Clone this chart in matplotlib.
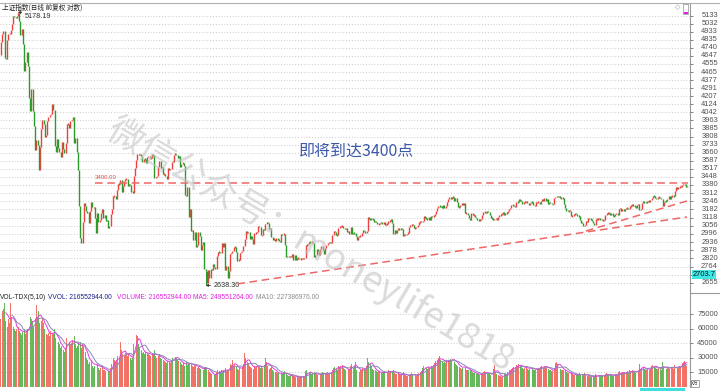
import numpy as np
import pandas as pd
import matplotlib
matplotlib.use('Agg')
import matplotlib.pyplot as plt
from matplotlib.lines import Line2D
from matplotlib.patches import Rectangle

# ---------------- data: Shanghai Composite daily closes (by month) ----------------
first_open = 4660
c15_05 = [4813, 4910, 4941, 4620, 4611]
c15_06 = [4828, 4910, 4910, 4947, 5023, 5131, 5113, 5106, 5121, 5166, 5062, 4887, 4967, 4786, 4478, 4576, 4690, 4527, 4192, 4053, 4277]
c15_07 = [4053, 3912, 3687, 3775, 3727, 3507, 3710, 3877, 3970, 3924, 3805, 3823, 3958, 3992, 4017, 4026, 4124, 4070, 3725, 3663, 3789, 3705, 3664]
c15_08 = [3623, 3756, 3695, 3661, 3744, 3928, 3928, 3887, 3955, 3965, 3993, 3749, 3794, 3664, 3507, 3210, 2965, 2927, 3084, 3232, 3206]
c15_09 = [3166, 3160, 3080, 3170, 3243, 3198, 3200, 3114, 3005, 3152, 3086, 3097, 3156, 3185, 3116, 3142, 3092, 3100, 3038, 3053]
c15_10 = [3143, 3183, 3287, 3293, 3263, 3338, 3391, 3386, 3425, 3320, 3369, 3412, 3429, 3434, 3375, 3387, 3383]
c15_11 = [3325, 3316, 3459, 3522, 3590, 3646, 3640, 3650, 3632, 3580, 3606, 3604, 3568, 3617, 3630, 3610, 3616, 3647, 3635, 3436, 3445]
c15_12 = [3456, 3536, 3584, 3525, 3536, 3470, 3472, 3455, 3434, 3520, 3510, 3516, 3580, 3578, 3642, 3651, 3636, 3612, 3627, 3533, 3563, 3572, 3539]
c16_01 = [3296, 3288, 3361, 3125, 3186, 3016, 3022, 2949, 3007, 2901, 2913, 3008, 2977, 2880, 2916, 2938, 2750, 2735, 2656, 2738]
c16_02 = [2689, 2749, 2740, 2782, 2763, 2746, 2836, 2867, 2862, 2860, 2927, 2903, 2928, 2742, 2767, 2688]
c16_03 = [2733, 2849, 2859, 2874, 2897, 2901, 2863, 2805, 2810, 2859, 2864, 2870, 2904, 2955, 3018, 2999, 3009, 2960, 2979, 2957, 2919, 3000, 3003]
c16_04 = [3009, 3053, 3050, 2985, 2985, 3034, 3023, 3066, 3082, 3078, 3033, 3042, 2972, 2953, 2960, 2946, 2964, 2954, 2945, 2938]
c16_05 = [2992, 2991, 2997, 2913, 2832, 2837, 2827, 2836, 2827, 2850, 2807, 2843, 2806, 2821, 2822, 2815, 2817, 2822, 2816, 2822, 2916]
c16_06 = [2913, 2925, 2938, 2934, 2936, 2927, 2833, 2842, 2887, 2873, 2844, 2888, 2905, 2878, 2854, 2895, 2912, 2931, 2932, 2930]
c16_07 = [2932, 2988, 3017, 3006, 2989, 2988, 3042, 3049, 3054, 3055, 3043, 3029, 3040, 3012, 3015, 2994, 3050, 2992, 3004, 2999, 2979]
c16_08 = [2953, 2971, 2978, 2982, 3004, 3026, 3018, 3002, 3018, 3125, 3110, 3104, 3108, 3104, 3084, 3089, 3085, 3070, 3070, 3075, 3085, 3070, 3085]
c16_09 = [3063, 3067, 3072, 3091, 3095, 3106, 3078, 2995, 3022, 3003, 3026, 3043, 3025, 3042, 3033, 2980, 2998, 2987, 2998, 3005]
c16_10 = [3048, 3061, 3065, 3063, 3041, 3041, 3045, 3059, 3084, 3085, 3091, 3090, 3128, 3116, 3113, 3100]
c16_11 = [3122, 3102, 3129, 3125, 3133, 3148, 3171, 3196, 3210, 3206, 3205, 3194, 3218, 3192, 3209, 3241, 3261, 3277, 3262, 3282, 3277, 3250]
c16_12 = [3273, 3243, 3204, 3199, 3216, 3232, 3215, 3232, 3152, 3155, 3140, 3117, 3103, 3153, 3137, 3139, 3122, 3114, 3102, 3097, 3105, 3104]
c17_01 = [3135, 3158, 3165, 3154, 3172, 3161, 3136, 3119, 3112, 3103, 3108, 3113, 3101, 3123, 3136, 3142, 3149, 3159]
c17_02 = [3140, 3156, 3153, 3166, 3183, 3196, 3216, 3217, 3212, 3202, 3240, 3239, 3261, 3253, 3251, 3228, 3241, 3242]
c17_03 = [3246, 3230, 3218, 3233, 3242, 3240, 3216, 3212, 3237, 3238, 3242, 3226, 3250, 3261, 3250, 3269, 3248, 3266, 3222, 3241, 3236, 3222, 3223]
c17_04 = [3270, 3281, 3287, 3286, 3288, 3269, 3273, 3276, 3222, 3196, 3173, 3170, 3172, 3173, 3129, 3134, 3140, 3155]
c17_05 = [3143, 3135, 3127, 3103, 3080, 3078, 3052, 3061, 3090, 3085, 3113, 3112, 3104, 3090, 3075, 3061, 3107, 3108, 3110, 3117]
c17_06 = [3102, 3105, 3091, 3103, 3140, 3150, 3158, 3150, 3139, 3153, 3132, 3130, 3144, 3157, 3140, 3185, 3191, 3173, 3185, 3173, 3188, 3192]
c17_07 = [3196, 3183, 3207, 3212, 3218, 3213, 3203, 3197, 3218, 3223, 3176, 3187, 3230, 3245, 3238, 3237, 3244, 3249, 3246, 3253, 3273]
c17_08 = [3292, 3285, 3272, 3262, 3279, 3281, 3275, 3261, 3208, 3237, 3251, 3246, 3268, 3286, 3268, 3287, 3290, 3288, 3331, 3362, 3348, 3360, 3365]
c17_09 = [3367, 3379, 3384, 3385, 3365, 3365]

# daily volume, unit = 1000 x 10k (axis unit 万)
v15_05 = [70, 78, 80, 86, 68]
v15_06 = [62, 70, 66, 86, 72, 62, 60, 58, 60, 62, 58, 56, 54, 57, 60, 55, 58, 60, 66, 72, 70]
v15_07 = [68, 62, 70, 84, 72, 78, 66, 68, 70, 66, 60, 55, 54, 56, 52, 58, 56, 55, 60, 50, 48, 46, 44]
v15_08 = [40, 42, 38, 36, 40, 50, 52, 46, 44, 45, 48, 52, 44, 40, 42, 44, 46, 40, 44, 42, 36]
v15_09 = [30, 28, 24, 26, 28, 22, 20, 22, 24, 24, 20, 18, 20, 22, 18, 17, 16, 15, 16, 15]
v15_10 = [20, 24, 30, 28, 26, 28, 32, 30, 46, 38, 34, 33, 35, 34, 32, 33, 30]
v15_11 = [28, 30, 44, 55, 54, 52, 44, 40, 38, 35, 36, 34, 36, 35, 34, 33, 32, 34, 33, 38, 32]
v15_12 = [30, 32, 34, 30, 29, 28, 27, 26, 25, 27, 26, 25, 28, 30, 32, 31, 30, 28, 27, 26, 24, 23, 25]
v16_01 = [22, 26, 23, 24, 25, 24, 22, 21, 23, 22, 20, 21, 20, 19, 18, 17, 20, 21, 19, 18]
v16_02 = [15, 14, 13, 12, 12, 13, 15, 17, 16, 15, 18, 16, 17, 20, 16, 18]
v16_03 = [17, 24, 23, 28, 22, 23, 21, 19, 18, 20, 19, 21, 24, 35, 30, 26, 25, 22, 21, 20, 19, 22, 21]
v16_04 = [22, 23, 21, 20, 21, 20, 23, 30, 26, 22, 19, 20, 21, 18, 16, 15, 15, 14, 14, 13]
v16_05 = [14, 13, 15, 16, 13, 12, 11, 11, 12, 12, 11, 11, 10, 10, 11, 10, 10, 10, 11, 10, 16]
v16_06 = [18, 15, 14, 14, 13, 13, 15, 14, 13, 12, 13, 13, 14, 15, 14, 13, 14, 15, 14, 14]
v16_07 = [15, 18, 20, 21, 19, 18, 22, 21, 22, 23, 20, 19, 18, 17, 17, 18, 22, 24, 20, 22, 26]
v16_08 = [18, 16, 15, 17, 18, 20, 19, 17, 22, 30, 26, 24, 22, 19, 18, 17, 16, 15, 16, 15, 14, 15, 15]
v16_09 = [16, 15, 15, 17, 16, 16, 15, 18, 14, 13, 13, 14, 13, 12, 12, 15, 13, 12, 11, 11]
v16_10 = [12, 13, 14, 13, 12, 12, 11, 13, 14, 15, 16, 20, 22, 21, 20, 19]
v16_11 = [21, 20, 22, 21, 23, 25, 27, 28, 30, 32, 28, 26, 25, 26, 25, 27, 28, 27, 29, 27, 31, 26]
v16_12 = [24, 23, 22, 21, 20, 19, 20, 23, 20, 18, 17, 18, 17, 16, 15, 14, 14, 13, 14, 13, 12, 13]
v17_01 = [14, 15, 16, 15, 14, 13, 14, 12, 13, 19, 23, 15, 13, 12, 11, 11, 10, 11]
v17_02 = [13, 14, 13, 15, 17, 18, 19, 20, 21, 20, 23, 22, 24, 22, 21, 20, 19, 20]
v17_03 = [21, 19, 18, 19, 20, 19, 18, 17, 18, 19, 20, 19, 21, 22, 20, 22, 20, 21, 19, 18, 17, 16, 16]
v17_04 = [20, 25, 26, 24, 22, 19, 18, 17, 18, 17, 15, 14, 14, 13, 15, 13, 12, 12]
v17_05 = [12, 13, 12, 14, 13, 12, 13, 14, 12, 11, 12, 11, 10, 11, 10, 11, 13, 12, 11, 12]
v17_06 = [11, 12, 11, 12, 13, 14, 13, 12, 12, 13, 11, 12, 13, 13, 12, 15, 16, 14, 15, 14, 14, 15]
v17_07 = [16, 15, 17, 16, 17, 16, 15, 14, 16, 17, 24, 19, 20, 21, 19, 18, 18, 19, 18, 19, 22]
v17_08 = [23, 22, 20, 19, 19, 20, 19, 18, 26, 21, 18, 19, 20, 21, 19, 20, 20, 19, 23, 19, 21, 20, 22]
v17_09 = [20.6, 25, 26, 27, 25, 21.7]
VOL_UNIT = 1000

price_ticks = [5133, 5032, 4933, 4835, 4740, 4647, 4555, 4465, 4377, 4291, 4207, 4124, 4042,
               3963, 3885, 3808, 3733, 3660, 3587, 3517, 3448, 3380, 3312, 3246, 3182, 3118,
               3056, 2996, 2936, 2878, 2820, 2764, 2709, 2655]
hidden_tick = 2709          # covered by the cursor price box
vol_ticks = [75000, 60000, 45000, 30000, 15000]

peak_idx, peak_high = 14, 5178.19
trough_idx, trough_low = 168, 2638.30
level_3400, level_start = 3400.0, 77
trend1 = [(194, 2648), (563, 3123)]
trend2 = [(480, 3017), (563, 3249)]
cursor_price = 2703.7
header = [("VOL-TDX(5,10)", '#202020'), ("VVOL: 216552944.00", '#1c1c8c'),
          ("VOLUME: 216552944.00", '#e020e0'), ("MA5: 249551264.00", '#e020e0'),
          ("MA10: 227386976.00", '#8c8c8c')]

closes = np.array(c15_05 + c15_06 + c15_07 + c15_08 + c15_09 + c15_10 + c15_11 + c15_12 +
                  c16_01 + c16_02 + c16_03 + c16_04 + c16_05 + c16_06 + c16_07 + c16_08 +
                  c16_09 + c16_10 + c16_11 + c16_12 + c17_01 + c17_02 + c17_03 + c17_04 +
                  c17_05 + c17_06 + c17_07 + c17_08 + c17_09, dtype=float)
vols = np.array(v15_05 + v15_06 + v15_07 + v15_08 + v15_09 + v15_10 + v15_11 + v15_12 +
                v16_01 + v16_02 + v16_03 + v16_04 + v16_05 + v16_06 + v16_07 + v16_08 +
                v16_09 + v16_10 + v16_11 + v16_12 + v17_01 + v17_02 + v17_03 + v17_04 +
                v17_05 + v17_06 + v17_07 + v17_08 + v17_09, dtype=float) * VOL_UNIT
n = len(closes)
assert len(vols) == n
idx = np.arange(n)
opens = np.r_[first_open, closes[:-1]]
up = closes >= opens

# ---------------- figure ----------------
W, H = 720, 391
fig = plt.figure(figsize=(W / 100, H / 100), dpi=100)
fig.patch.set_facecolor('white')


def fx(p):
    return p / W


def fy(p):
    return 1 - p / H


CJK = ['Noto Sans CJK SC', 'DejaVu Sans']
NUM = 'Liberation Sans'
RED, GREEN = '#ee4040', '#2a9a2a'
VRED, VGREEN = '#f27468', '#64b85a'
GRID = '#c4c4c4'
AXC = '#9a9a9a'

main_t, main_b, right = 3, 292, 690
vol_t, vol_b = 292, 387
ax = fig.add_axes([0, fy(main_b), fx(right), (main_b - main_t) / H])
axv = fig.add_axes([0, fy(vol_b), fx(right), (vol_b - vol_t) / H])

xlim = (-0.8, 565.5)
for a in (ax, axv):
    a.set_xlim(*xlim)
    a.set_facecolor('white')
    a.set_xticks([])
    for s in ('left', 'bottom', 'top'):
        a.spines[s].set_visible(False)
    a.spines['right'].set_color(AXC)
    a.spines['right'].set_linewidth(0.8)

# price panel
ax.set_yscale('log')
ax.set_ylim(2595.6, 5294)
ax.minorticks_off()
ax.set_yticks(price_ticks)
ax.tick_params(axis='y', which='both', right=True, left=False, labelleft=False,
               labelright=False, length=2.2, width=0.6, color='#707070', direction='out')
for v in price_ticks:
    ax.axhline(v, color=GRID, lw=0.6, ls=(0, (1.2, 2.2)), zorder=0)
    if v != hidden_tick:
        ax.text(718 / right, v, str(v), transform=ax.get_yaxis_transform(), ha='right',
                va='center', fontsize=5.4, color='#505050', family=NUM, clip_on=False)

lo = np.minimum(opens, closes)
hi = np.maximum(opens, closes)
mid = np.sqrt(lo * hi)
minh = 1.0036
hi_d = np.maximum(hi, mid * np.sqrt(minh))
lo_d = np.minimum(lo, mid / np.sqrt(minh))
ax.vlines(idx[up], lo_d[up], hi_d[up], colors=RED, lw=1.0, zorder=3)
ax.vlines(idx[~up], lo_d[~up], hi_d[~up], colors=GREEN, lw=1.0, zorder=3)
ax.vlines([peak_idx], [hi[peak_idx]], [peak_high], colors=RED if up[peak_idx] else GREEN, lw=0.7, zorder=3)
ax.vlines([trough_idx], [trough_low], [lo[trough_idx]], colors=RED if up[trough_idx] else GREEN, lw=0.7, zorder=3)

# 3400 level & trend lines
dash = (0, (5, 3))
ax.plot([level_start, n - 0.5], [level_3400, level_3400], color='#f06666', lw=1.1, ls=dash, zorder=4)
ax.text(level_start, level_3400 * 1.006, '3400.00', color='#e04848', fontsize=4.3,
        family=NUM, ha='left', va='bottom')
for tl in (trend1, trend2):
    ax.plot([p[0] for p in tl], [p[1] for p in tl], color='#f06666', lw=1.1, ls=dash, zorder=4)

# extreme annotations
ax.annotate('5178.19', xy=(peak_idx, peak_high), xytext=(4.5, -3.0), textcoords='offset points',
            fontsize=5.2, family=NUM, color='#303030', ha='left', va='center',
            arrowprops=dict(arrowstyle='-|>', lw=0.6, color='#303030', mutation_scale=3.5,
                            shrinkA=0, shrinkB=0))
ax.annotate('2638.30', xy=(trough_idx, trough_low), xytext=(5.5, 0), textcoords='offset points',
            fontsize=5.2, family=NUM, color='#303030', ha='left', va='center',
            arrowprops=dict(arrowstyle='-|>', lw=0.6, color='#303030', mutation_scale=3.5,
                            shrinkA=0, shrinkB=0))

# cursor price box on the axis (sits over the hidden tick position)
ax.text(704 / right, hidden_tick, f'{cursor_price:.1f}', transform=ax.get_yaxis_transform(),
        ha='center', va='center', fontsize=5.4, family=NUM, color='#101010', clip_on=False,
        zorder=10, bbox=dict(boxstyle='square,pad=0.12', fc='#3ee6e6', ec='none'))

# volume panel
axv.set_ylim(0, 97800)
axv.set_yticks(vol_ticks)
axv.tick_params(axis='y', right=True, left=False, labelleft=False, labelright=False,
                length=2.2, width=0.6, color='#707070', direction='out')
for v in vol_ticks:
    axv.axhline(v, color=GRID, lw=0.6, ls=(0, (1.2, 2.2)), zorder=0)
    axv.text(718 / right, v, str(v), transform=axv.get_yaxis_transform(), ha='right',
             va='center', fontsize=5.4, color='#505050', family=NUM, clip_on=False)
axv.bar(idx, vols, width=0.78, color=np.where(up, VRED, VGREEN), linewidth=0, zorder=2)
vs = pd.Series(vols)
axv.plot(idx, vs.rolling(5).mean(), color='#e43ce4', lw=0.7, zorder=3)
axv.plot(idx, vs.rolling(10).mean(), color='#8a8ab4', lw=0.7, zorder=3)

# header texts
fig.text(fx(2), fy(8), '上证指数(日线 前复权 对数)', fontsize=4.8, family=CJK, color='#202020',
         ha='left', va='center')
xs = [0, 48, 117, 193, 256]
for (s, c), x0 in zip(header, xs):
    fig.text(fx(x0), fy(297.5), s, fontsize=4.8, family=NUM, color=c, ha='left', va='center')

# remark text & watermark
fig.text(fx(357), fy(151.5), '即将到达3400点', fontsize=11.5, family=CJK, color='#3c58aa',
         ha='center', va='center')
fig.text(fx(311), fy(244), '微信公众号：moneylife1818', fontsize=26, family=CJK, color='#c4c4c4',
         alpha=0.6, fontweight='light', ha='center', va='center', rotation=-30.5,
         rotation_mode='anchor', zorder=20)

# frame decorations
fig.add_artist(Line2D([0, 1], [fy(3), fy(3)], color='#b0b0b0', lw=0.8))
fig.add_artist(Line2D([fx(right), 1], [fy(293), fy(293)], color=AXC, lw=0.8))
fig.add_artist(Rectangle((fx(640), 0), fx(45), 3.5 / H, color='#40dede', lw=0))
fig.add_artist(Rectangle((fx(691), fy(387)), fx(8), 7 / H, fc='white', ec='#808080', lw=0.5))
fig.text(fx(695), fy(383.5), 'X万', fontsize=3.6, family=CJK, color='#404040', ha='center', va='center')
fig.text(fx(678), fy(7), '◇', fontsize=5, family='DejaVu Sans', color='#909090', ha='center', va='center')
fig.add_artist(Rectangle((fx(683), fy(14)), fx(5), 10 / H, fc='white', ec='#909090', lw=0.5))
fig.add_artist(Rectangle((fx(684), fy(14)), fx(3.5), 2 / H, fc='#e020e0', lw=0))

fig.savefig('out.png', dpi=100, facecolor='white')
